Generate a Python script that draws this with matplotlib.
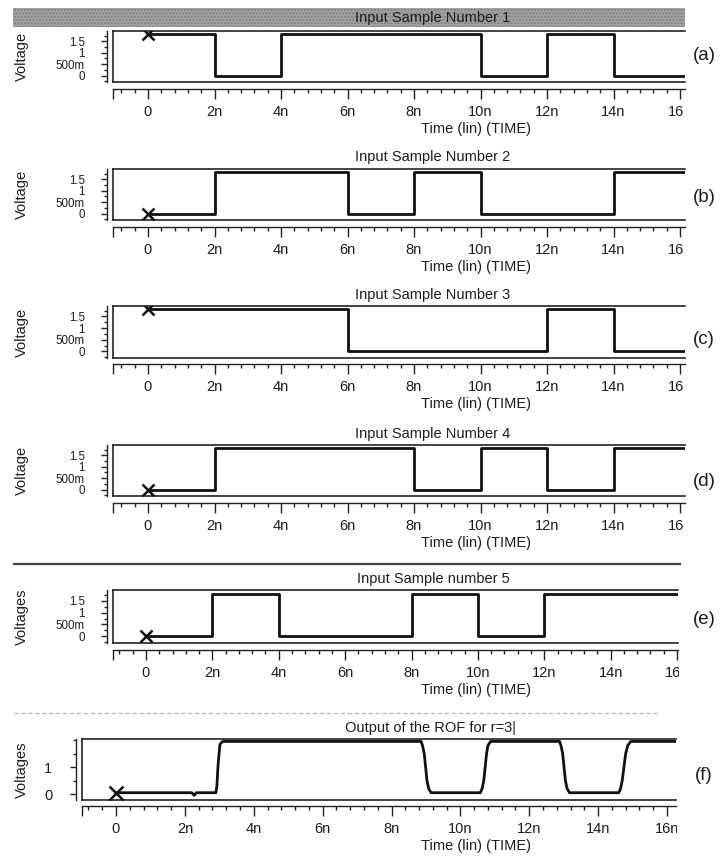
import matplotlib
matplotlib.use('Agg')
import matplotlib.pyplot as plt
from matplotlib.ticker import FixedLocator, MultipleLocator
from matplotlib.patches import Rectangle
from matplotlib.transforms import Bbox, TransformedBbox

plt.rcParams['font.family'] = ['Liberation Sans', 'DejaVu Sans']

# ---------------- data ----------------
bit_times = [0, 2, 4, 6, 8, 10, 12, 14]          # ns, start of each 2 ns slot
bits_a = [1, 0, 1, 1, 1, 0, 1, 0]
bits_b = [0, 1, 1, 0, 1, 0, 0, 1]
bits_c = [1, 1, 1, 0, 0, 0, 1, 0]
bits_d = [0, 1, 1, 1, 0, 1, 0, 1]
bits_e = [0, 1, 0, 0, 1, 0, 1, 1]
v_high = 1.8
v_low = 0.0

out_t = [0, 2.2, 2.27, 2.33, 2.9, 2.93, 2.96, 3.0, 3.02, 3.1,
         8.86, 8.9, 8.95, 9.03, 9.08, 9.15,
         10.58, 10.63, 10.68, 10.76, 10.8, 10.88,
         12.88, 12.92, 12.97, 13.05, 13.1, 13.17,
         14.6, 14.65, 14.7, 14.8, 14.86, 14.95, 16.3]
out_v = [0.05, 0.05, -0.05, 0.05, 0.05, 0.3, 1.0, 1.6, 1.85, 1.95,
         1.95, 1.8, 1.5, 0.5, 0.2, 0.05,
         0.05, 0.2, 0.5, 1.5, 1.8, 1.95,
         1.95, 1.8, 1.5, 0.5, 0.2, 0.05,
         0.05, 0.2, 0.5, 1.5, 1.8, 1.95, 1.95]

titles = ['Input Sample Number 1', 'Input Sample Number 2', 'Input Sample Number 3',
          'Input Sample Number 4', 'Input Sample number 5', 'Output of the ROF for r=3|']
tags = ['(a)', '(b)', '(c)', '(d)', '(e)', '(f)']
ylabels = ['Voltage', 'Voltage', 'Voltage', 'Voltage', 'Voltages', 'Voltages']
x_ticks = [0, 2, 4, 6, 8, 10, 12, 14, 16]
x_ticklabels = ['0', '2n', '4n', '6n', '8n', '10n', '12n', '14n', '16n']
y_ticks_in = [0, 0.5, 1, 1.5]
y_ticklabels_in = ['0', '500m', '1', '1.5']
y_ticks_out = [0, 1]
y_ticklabels_out = ['0', '1']
xlabel = 'Time (lin) (TIME)'

# ---------------- layout (pixels) ----------------
W, H = 721, 859
fig = plt.figure(figsize=(W / 100, H / 100), dpi=100)
fig.patch.set_facecolor('white')

def fx(px):
    return px / W

def fy(py):
    return 1 - py / H

L = [
    dict(l=113, r=685, t=31, b=82, yx=107, ay=89, ty=18, tag=55, x0=148, x16=680, clip=684),
    dict(l=113, r=685, t=169, b=220, yx=107, ay=227, ty=157, tag=198, x0=148, x16=680, clip=684),
    dict(l=113, r=685, t=306, b=358, yx=107, ay=364, ty=295, tag=340, x0=148, x16=680, clip=684),
    dict(l=113, r=685, t=445, b=496, yx=107, ay=503, ty=434, tag=482, x0=148, x16=680, clip=684),
    dict(l=113, r=678, t=590, b=643, yx=107, ay=650, ty=579, tag=620, x0=146, x16=677, clip=679),
    dict(l=82, r=676, t=739, b=800, yx=76, ay=806, ty=728, tag=776, x0=116, x16=667, clip=677),
]

series = [bits_a, bits_b, bits_c, bits_d, bits_e]
FS = 10.5
tc = '#1c1c1c'

for i, P in enumerate(L):
    ppn = (P['x16'] - P['x0']) / 16.0
    xmin = -(P['x0'] - P['l']) / ppn
    xmax = (P['r'] - P['x0']) / ppn
    if i < 5:
        ylim = (-0.28, 1.95)
    else:
        ylim = (-0.22, 2.04)

    # signal box
    ax = fig.add_axes([fx(P['l']), fy(P['b']), fx(P['r']) - fx(P['l']), (P['b'] - P['t']) / H])
    ax.set_xlim(xmin, xmax)
    ax.set_ylim(*ylim)
    ax.set_xticks([])
    ax.set_yticks([])
    ax.spines['right'].set_visible(False)
    for s in ['left', 'top', 'bottom']:
        ax.spines[s].set_linewidth(1.1)
        ax.spines[s].set_color('#111111')
    ax.patch.set_alpha(0)

    if i < 5:
        lv = [v_high if b else v_low for b in series[i]]
        t = list(bit_times) + [xmax]
        v = lv + [lv[-1]]
        ax.step(t, v, where='post', color='#111111', lw=2.0)
        ax.plot([0], [lv[0]], marker='x', ms=9, mew=1.8, color='#111111', ls='none')
    else:
        ax.plot(out_t, out_v, color='#111111', lw=2.0)
        ax.plot([0], [out_v[0]], marker='x', ms=10, mew=1.8, color='#111111', ls='none')

    # y axis (separate line to the left of the box)
    ay = fig.add_axes([fx(P['yx']), fy(P['b']), 0.0001, (P['b'] - P['t']) / H])
    ay.set_ylim(*ylim)
    ay.patch.set_alpha(0)
    for s in ['right', 'top', 'bottom']:
        ay.spines[s].set_visible(False)
    ay.spines['left'].set_linewidth(1.0)
    ay.spines['left'].set_color('#222222')
    ay.set_xticks([])
    if i < 5:
        ay.yaxis.set_major_locator(FixedLocator(y_ticks_in))
        ay.set_yticklabels(y_ticklabels_in)
        ay.yaxis.set_minor_locator(MultipleLocator(0.25))
        pad = 12
        yfs = 8.3
    else:
        ay.yaxis.set_major_locator(FixedLocator(y_ticks_out))
        ay.set_yticklabels(y_ticklabels_out)
        ay.yaxis.set_minor_locator(MultipleLocator(0.5))
        pad = 13
        yfs = FS
    ay.tick_params(axis='y', which='major', direction='out', length=4, width=1.0,
                   labelsize=yfs, pad=pad, colors='#222222', labelcolor=tc)
    ay.tick_params(axis='y', which='minor', direction='out', length=2.5, width=1.0, colors='#222222')

    # time axis (separate line below the box)
    at = fig.add_axes([fx(P['l']), fy(P['ay']), fx(P['r']) - fx(P['l']), 0.0001])
    at.set_xlim(xmin, xmax)
    at.patch.set_alpha(0)
    for s in ['left', 'right', 'top']:
        at.spines[s].set_visible(False)
    at.spines['bottom'].set_linewidth(1.0)
    at.spines['bottom'].set_color('#222222')
    at.set_yticks([])
    at.xaxis.set_major_locator(FixedLocator([xmin] + x_ticks))
    at.set_xticklabels([''] + x_ticklabels)
    at.xaxis.set_minor_locator(MultipleLocator(0.4))
    at.tick_params(axis='x', which='major', direction='out', length=7, width=1.0,
                   labelsize=FS, pad=4.5, colors='#222222', labelcolor=tc)
    at.tick_params(axis='x', which='minor', direction='out', length=3, width=1.0, colors='#222222')
    clipbox = TransformedBbox(Bbox.from_extents(0, 0, fx(P['clip']), 1), fig.transFigure)
    for lab in at.get_xticklabels():
        lab.set_clip_on(True)
        lab.set_clip_box(clipbox)

    # texts
    fig.text(fx(476), fy(P['ay'] + 40), xlabel, ha='center', va='center', fontsize=FS, color=tc)
    title_x = 433 if i < 5 else 430
    fig.text(fx(title_x), fy(P['ty']), titles[i], ha='center', va='center', fontsize=FS, color=tc)
    fig.text(fx(704), fy(P['tag']), tags[i], ha='center', va='center', fontsize=13.5, color=tc)
    fig.text(fx(22), fy((P['t'] + P['b']) / 2), ylabels[i], rotation=90, ha='center',
             va='center', fontsize=FS, color=tc)

# gray title bar of panel (a)
bar = Rectangle((fx(13), fy(27)), fx(685) - fx(13), (27 - 8) / H, transform=fig.transFigure,
                facecolor='#a3a3a3', edgecolor='#7d7d7d', hatch='.....', lw=0, zorder=0)
fig.patches.append(bar)

# separator line above panel (e) and faint dotted line above (f)
fig.add_artist(plt.Line2D([fx(14), fx(680)], [fy(564), fy(564)], transform=fig.transFigure,
                          color='#444444', lw=1.6))
fig.add_artist(plt.Line2D([fx(14), fx(660)], [fy(713), fy(713)], transform=fig.transFigure,
                          color='#bbbbbb', lw=1.0, ls=(0, (3, 2))))

fig.savefig('out.png', dpi=100, facecolor='white')
